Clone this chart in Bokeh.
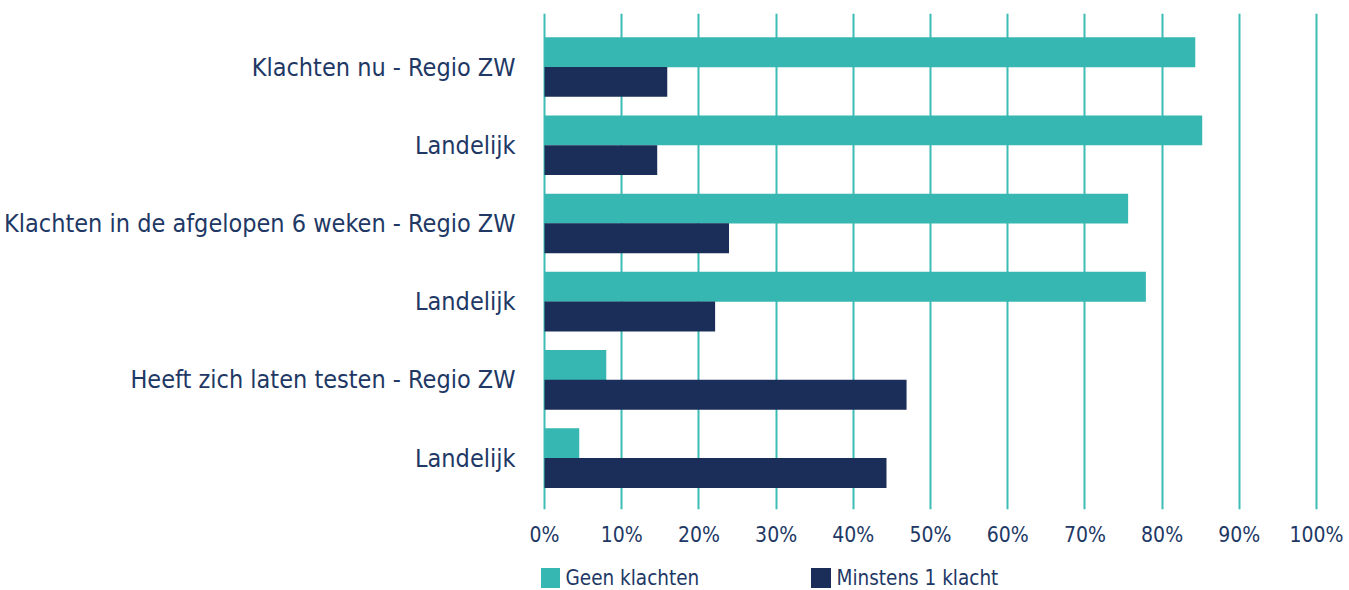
from bokeh.plotting import figure
from bokeh.layouts import column
from bokeh.models import ColumnDataSource, Range1d, FixedTicker, Legend, LegendItem
from bokeh.transform import dodge
from bokeh.embed import file_html
from bokeh.resources import INLINE

# ---- data ----
categories = [
    "Klachten nu - Regio ZW",
    "Landelijk",
    "Klachten in de afgelopen 6 weken - Regio ZW",
    "Landelijk",
    "Heeft zich laten testen - Regio ZW",
    "Landelijk",
]
geen_klachten = [84.3, 85.2, 75.6, 77.9, 8.0, 4.5]
minstens_1_klacht = [15.9, 14.6, 23.9, 22.1, 46.9, 44.3]
x_ticks = [0, 10, 20, 30, 40, 50, 60, 70, 80, 90, 100]
x_tick_labels = ["0%", "10%", "20%", "30%", "40%", "50%", "60%", "70%", "80%", "90%", "100%"]
series_names = ["Geen klachten", "Minstens 1 klacht"]

# ---- style ----
TEAL = "#36b7b1"
NAVY = "#1b2e59"
TEXT = "#213865"
GRID = "#3cbcb4"
FONT = "DejaVu Sans Condensed"

W, H1, H2 = 1349, 560, 30
pos = list(range(len(categories)))
src = ColumnDataSource(dict(y=pos, geen=geen_klachten, min1=minstens_1_klacht))

p = figure(
    width=W, height=H1,
    x_range=Range1d(-0.39, 100.39),
    y_range=Range1d(5.656, -0.684),
    output_backend="svg", toolbar_location=None,
    min_border_left=541, min_border_right=W - 1319, min_border_top=13, min_border_bottom=H1 - 509,
)
p.outline_line_color = None
p.background_fill_color = "white"
p.border_fill_color = "white"

p.hbar(y=dodge("y", -0.19, range=p.y_range), right="geen", left=0, height=0.383,
       source=src, fill_color=TEAL, line_color=None)
p.hbar(y=dodge("y", 0.19, range=p.y_range), right="min1", left=0, height=0.383,
       source=src, fill_color=NAVY, line_color=None)

# x axis
p.xaxis.ticker = FixedTicker(ticks=x_ticks)
p.xaxis.major_label_overrides = {t: l for t, l in zip(x_ticks, x_tick_labels)}
p.xaxis.axis_line_color = None
p.xaxis.major_tick_line_color = None
p.xaxis.minor_tick_line_color = None
p.xaxis.major_label_standoff = 7
p.xaxis.major_label_text_font = FONT
p.xaxis.major_label_text_font_size = "21px"
p.xaxis.major_label_text_color = TEXT

# y axis
p.yaxis.ticker = FixedTicker(ticks=pos)
p.yaxis.major_label_overrides = {i: c for i, c in zip(pos, categories)}
p.yaxis.axis_line_color = None
p.yaxis.major_tick_line_color = None
p.yaxis.minor_tick_line_color = None
p.yaxis.major_label_standoff = 20
p.yaxis.major_label_text_font = FONT
p.yaxis.major_label_text_font_size = "25px"
p.yaxis.major_label_text_color = TEXT

# grid
p.ygrid.grid_line_color = None
p.xgrid.grid_line_color = GRID
p.xgrid.grid_line_width = 2

# ---- legend strip (separate small figure below the chart; its frame aligns with the chart's) ----
lg = figure(
    width=W, height=H2, x_range=Range1d(0, 1), y_range=Range1d(100, 101),
    x_axis_type=None, y_axis_type=None,
    output_backend="svg", toolbar_location=None,
    min_border_left=0, min_border_right=0, min_border_top=0, min_border_bottom=0,
)
lg.outline_line_color = None
lg.grid.visible = False
# same series as the chart, drawn outside the strip's visible range: only used for the swatches
s1 = lg.hbar(y="y", right="geen", left=0, height=0.383, source=src, fill_color=TEAL, line_color=None)
s2 = lg.hbar(y="y", right="min1", left=0, height=0.383, source=src, fill_color=NAVY, line_color=None)

legend = Legend(
    items=[LegendItem(label=series_names[0], renderers=[s1]),
           LegendItem(label=series_names[1], renderers=[s2])],
    orientation="horizontal",
    location=(-4.5, 0),
    glyph_width=25, glyph_height=25,
    label_standoff=4, label_width=242, spacing=0,
    padding=0, margin=0,
    border_line_color=None, background_fill_alpha=0,
    label_text_font=FONT, label_text_font_size="20.5px", label_text_color=TEXT,
)
lg.add_layout(legend, "center")

layout = column(p, lg, spacing=0)
open("out.html", "w").write(file_html(layout, INLINE))
